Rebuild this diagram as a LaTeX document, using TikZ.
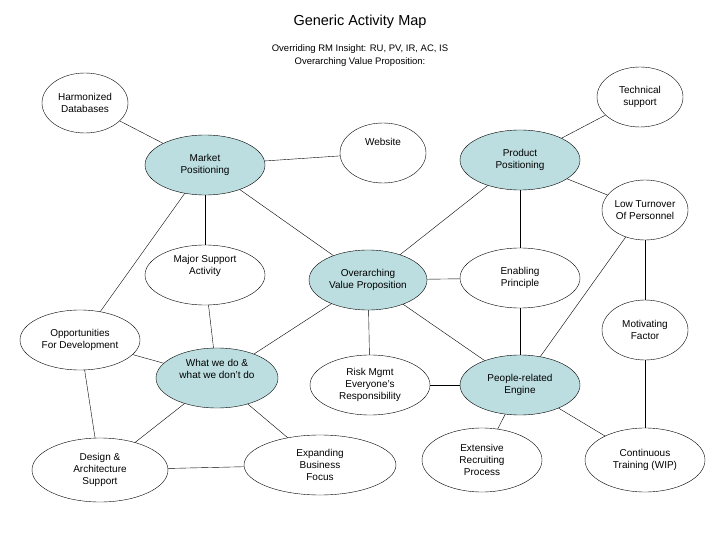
\documentclass[tikz,border=0pt]{standalone}
\usepackage{fontspec}
\setmainfont{Liberation Sans}
\usetikzlibrary{shapes.geometric}
\definecolor{lb}{HTML}{BCDEE0}
\begin{document}
\begin{tikzpicture}[x=1pt,y=-1pt,
  el/.style={ellipse,draw,thin,minimum width=#1,minimum height=60pt,inner sep=0pt,align=center,font=\fontsize{10}{12}\selectfont},
  el/.default=86pt,
  hl/.style={fill=lb}]
\useasboundingbox (0,0) rectangle (720,540);
\node at (360,22) {\fontsize{14.5}{16}\selectfont Generic Activity Map};
\node[align=center,font=\fontsize{9.5}{13}\selectfont] at (360,56) {Overriding RM Insight: RU, PV, IR, AC, IS\\Overarching Value Proposition:};
\node[el] (hd) at (85,103) {Harmonized\\Databases};
\node[el] (ts) at (640,97) {Technical\\support};
\node[el] (ws) at (383,153) {Website\\[10pt]};
\node[el=120pt,hl] (mp) at (205,165) {Market\\Positioning};
\node[el=120pt,hl] (pp) at (520,160) {Product\\Positioning};
\node[el] (lt) at (645,210) {Low Turnover\\Of Personnel};
\node[el=120pt] (ms) at (205,275) {Major Support\\Activity\\[8pt]};
\node[el=118pt,hl] (ov) at (368,280) {Overarching\\Value Proposition};
\node[el=120pt] (ep) at (520,278) {Enabling\\Principle};
\node[el] (mf) at (645,330) {Motivating\\Factor};
\node[el=120pt] (od) at (80,340) {Opportunities\\For Development};
\node[el=122pt,hl] (ww) at (217,378) {What we do \&\\what we don’t do\\[6pt]};
\node[el=120pt] (rm) at (370,385) {Risk Mgmt\\Everyone’s\\Responsibility};
\node[el=120pt,hl] (pe) at (520,385) {People-related\\Engine};
\node[el=136pt,minimum height=64pt] (da) at (100,470) {Design \&\\Architecture\\Support};
\node[el=152pt] (eb) at (320,465) {Expanding\\Business\\Focus};
\node[el=120pt,minimum height=64pt] (er) at (482,460) {Extensive\\Recruiting\\Process};
\node[el=120pt,minimum height=64pt] (ct) at (645,460) {Continuous\\Training (WIP)};
\foreach \a/\b in {hd/mp,mp/ws,mp/ms,mp/ov,mp/od,od/da,od/ww,pp/ts,pp/lt,pp/ov,pp/ep,ov/ep,ov/ww,ov/rm,ov/pe,ms/ww,ep/pe,lt/pe,lt/mf,mf/ct,rm/pe,pe/er,pe/ct,ww/da,ww/eb,da/eb}
  \draw[thin] (\a) -- (\b);
\end{tikzpicture}
\end{document}
